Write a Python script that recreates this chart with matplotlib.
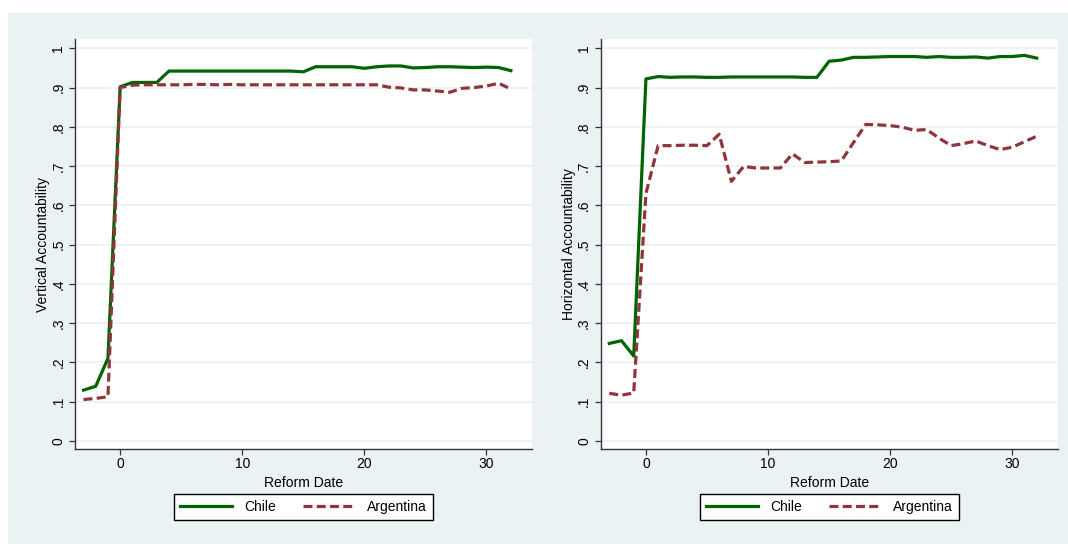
import matplotlib
matplotlib.use("Agg")
import matplotlib.pyplot as plt
from matplotlib.patches import Rectangle

plt.rcParams['font.family'] = ['Liberation Sans', 'DejaVu Sans']

# data
years = list(range(-3, 33))

vert_chile = [0.129, 0.139, 0.210, 0.902, 0.913, 0.913, 0.913, 0.942, 0.942, 0.942,
              0.942, 0.942, 0.942, 0.942, 0.942, 0.942, 0.942, 0.942, 0.940, 0.953,
              0.953, 0.953, 0.953, 0.949, 0.953, 0.955, 0.955, 0.950, 0.951, 0.953,
              0.953, 0.952, 0.951, 0.952, 0.951, 0.943]
vert_arg = [0.105, 0.108, 0.112, 0.900, 0.906, 0.907, 0.907, 0.907, 0.907, 0.908,
            0.908, 0.907, 0.908, 0.907, 0.907, 0.907, 0.907, 0.907, 0.907, 0.907,
            0.907, 0.907, 0.907, 0.907, 0.907, 0.901, 0.899, 0.894, 0.894, 0.891,
            0.888, 0.898, 0.900, 0.904, 0.911, 0.896]

horiz_chile = [0.248, 0.255, 0.216, 0.922, 0.928, 0.926, 0.927, 0.927, 0.926, 0.926,
               0.927, 0.927, 0.927, 0.927, 0.927, 0.927, 0.926, 0.926, 0.967, 0.970,
               0.977, 0.977, 0.978, 0.979, 0.979, 0.979, 0.977, 0.979, 0.977, 0.977,
               0.978, 0.975, 0.979, 0.979, 0.982, 0.975]
horiz_arg = [0.121, 0.116, 0.122, 0.630, 0.752, 0.752, 0.753, 0.753, 0.752, 0.781,
             0.661, 0.699, 0.695, 0.695, 0.695, 0.731, 0.709, 0.710, 0.711, 0.713,
             0.760, 0.806, 0.805, 0.803, 0.799, 0.791, 0.793, 0.771, 0.752, 0.757,
             0.764, 0.752, 0.742, 0.748, 0.762, 0.776]

yticks = [i / 10 for i in range(11)]
ytick_labels = ["0", ".1", ".2", ".3", ".4", ".5", ".6", ".7", ".8", ".9", "1"]
xticks = [0, 10, 20, 30]

BG = "#eaf2f3"
GREEN = "#006400"
MAROON = "#90353b"

fig = plt.figure(figsize=(10.68, 5.44), dpi=100)
fig.patch.set_facecolor("white")
fig.add_artist(Rectangle((8 / 1068, 0), 1, 1 - 13 / 544, transform=fig.transFigure,
                         facecolor=BG, edgecolor="none", zorder=-5))

panels = [
    (0.0702, "Vertical Accountability", vert_chile, vert_arg),
    (0.5625, "Horizontal Accountability", horiz_chile, horiz_arg),
]

for x0, ylabel, chile, arg in panels:
    ax = fig.add_axes([x0, 0.1746, 0.4282, 0.7532])
    ax.set_facecolor("white")
    ax.plot(years, chile, color=GREEN, lw=2.3, label="Chile", solid_joinstyle="round")
    ax.plot(years, arg, color=MAROON, lw=2.3, linestyle=(0, (2.8, 1.35)),
            label="Argentina")
    ax.set_xlim(-3.7, 33.75)
    ax.set_ylim(-0.021, 1.023)
    ax.set_yticks(yticks)
    ax.set_yticklabels(ytick_labels, rotation=90, va="center")
    ax.set_xticks(xticks)
    ax.grid(axis="y", color=BG, lw=1.2)
    ax.set_axisbelow(True)
    for s in ["top", "right"]:
        ax.spines[s].set_visible(False)
    for s in ["left", "bottom"]:
        ax.spines[s].set_color("#333333")
        ax.spines[s].set_linewidth(1.0)
    ax.tick_params(axis="both", direction="out", length=4, width=0.9,
                   color="#333333", labelsize=10, labelcolor="black")
    ax.tick_params(axis="y", pad=3)
    ax.tick_params(axis="x", pad=2)
    ax.set_xlabel("Reform Date", fontsize=10, labelpad=3)
    ax.set_ylabel(ylabel, fontsize=10, labelpad=1)
    leg = ax.legend(loc="center", bbox_to_anchor=(0.5, -0.142), ncol=2,
                    fontsize=10, handlelength=3.75, handletextpad=0.86,
                    columnspacing=1.96, borderpad=0.45, fancybox=False,
                    framealpha=1, edgecolor="black")
    leg.get_frame().set_linewidth(1.0)

fig.savefig("out.png", dpi=100)
